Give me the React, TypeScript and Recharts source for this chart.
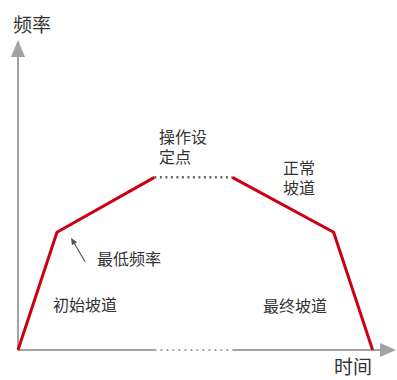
import { LineChart, Line, XAxis, YAxis, ReferenceLine, ReferenceDot } from 'recharts'

// ramp profile: t = time, f = frequency
const rampUp = [
  { t: 0, f: 0 },
  { t: 10, f: 30 },
  { t: 35, f: 44 },
]
const plateau = [
  { t: 35, f: 44 },
  { t: 55, f: 44 },
]
const rampDown = [
  { t: 55, f: 44 },
  { t: 81, f: 30 },
  { t: 91, f: 0 },
]

const notes = [
  { t: 36.2, f: 52.8, lines: ['操作设', '定点'] },
  { t: 68, f: 44.9, lines: ['正常', '坡道'] },
  { t: 20.3, f: 21.7, lines: ['最低频率'] },
  { t: 9, f: 9.9, lines: ['初始坡道'] },
  { t: 62.9, f: 9.7, lines: ['最终坡道'] },
]
const axisTitles = [
  { t: -1.3, f: 81, lines: ['频率'] },
  { t: 81.1, f: -6.1, lines: ['时间'] },
]
// pointer from label to the minimum-frequency knee
const pointer = [
  { t: 17.2, f: 22.5 },
  { t: 13.6, f: 28.6 },
]

const AXIS = '#a3a3a3'
const RED = '#cc0010'
const TEXT = '#333333'
const FONT = '"Noto Sans CJK SC", "Noto Sans", sans-serif'

const textShape = (lines: string[], size: number, lineH: number) => (props: any) => (
  <text x={props.cx} y={props.cy} fontSize={size} fill={TEXT} fontFamily={FONT}>
    {lines.map((l, i) => (
      <tspan key={i} x={props.cx} dy={i ? lineH : 0}>
        {l}
      </tspan>
    ))}
  </text>
)

const arrowRight = (props: any) => {
  const { cx, cy } = props
  return <polygon points={`${cx},${cy} ${cx - 16},${cy - 7} ${cx - 16},${cy + 7}`} fill={AXIS} />
}
const arrowUp = (props: any) => {
  const { cx, cy } = props
  return <polygon points={`${cx},${cy} ${cx - 7},${cy + 17} ${cx + 7},${cy + 17}`} fill={AXIS} />
}

const pointerShape = (props: any) => {
  const { x1, y1, x2, y2 } = props
  const ang = Math.atan2(y2 - y1, x2 - x1)
  const len = 7
  const w = 3
  const bx = x2 - len * Math.cos(ang)
  const by = y2 - len * Math.sin(ang)
  const px = -Math.sin(ang) * w
  const py = Math.cos(ang) * w
  return (
    <g>
      <line x1={x1} y1={y1} x2={bx} y2={by} stroke="#555" strokeWidth={1.2} />
      <polygon points={`${x2},${y2} ${bx + px},${by + py} ${bx - px},${by - py}`} fill="#555" />
    </g>
  )
}

export default function App() {
  return (
    <div style={{ position: 'absolute', left: 0, top: 0, width: 397, height: 380, background: '#fff' }}>
      <LineChart width={397} height={380} margin={{ top: 40, right: 1, left: 18, bottom: 30 }}>
        <XAxis type="number" dataKey="t" domain={[0, 97]} hide />
        <YAxis type="number" dataKey="f" domain={[0, 79]} hide />

        {/* axes */}
        <ReferenceLine segment={[{ x: 0, y: 0 }, { x: 0, y: 75 }]} stroke={AXIS} strokeWidth={2} ifOverflow="visible" />
        <ReferenceLine segment={[{ x: 0, y: 0 }, { x: 35, y: 0 }]} stroke={AXIS} strokeWidth={2} ifOverflow="visible" />
        <ReferenceLine
          segment={[{ x: 35, y: 0 }, { x: 55, y: 0 }]}
          stroke={AXIS}
          strokeWidth={2}
          strokeDasharray="2 4"
          ifOverflow="visible"
        />
        <ReferenceLine segment={[{ x: 55, y: 0 }, { x: 93, y: 0 }]} stroke={AXIS} strokeWidth={2} ifOverflow="visible" />
        <ReferenceDot x={97} y={0} r={0} shape={arrowRight} ifOverflow="visible" />
        <ReferenceDot x={0} y={79} r={0} shape={arrowUp} ifOverflow="visible" />

        <Line data={plateau} dataKey="f" type="linear" stroke="#666" strokeWidth={2.5} strokeDasharray="2 3.5" dot={false} isAnimationActive={false} />
        <Line data={rampUp} dataKey="f" type="linear" stroke={RED} strokeWidth={3} dot={false} isAnimationActive={false} />
        <Line data={rampDown} dataKey="f" type="linear" stroke={RED} strokeWidth={3} dot={false} isAnimationActive={false} />

        <ReferenceLine
          segment={[{ x: pointer[0].t, y: pointer[0].f }, { x: pointer[1].t, y: pointer[1].f }]}
          shape={pointerShape}
          ifOverflow="visible"
        />

        {notes.map((n, i) => (
          <ReferenceDot key={'n' + i} x={n.t} y={n.f} r={0} shape={textShape(n.lines, 16, 20)} ifOverflow="visible" />
        ))}
        {axisTitles.map((n, i) => (
          <ReferenceDot key={'a' + i} x={n.t} y={n.f} r={0} shape={textShape(n.lines, 19, 22)} ifOverflow="visible" />
        ))}
      </LineChart>
    </div>
  )
}
